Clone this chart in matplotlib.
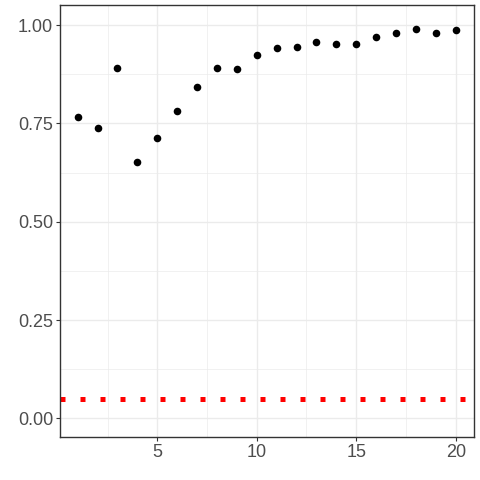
import matplotlib
matplotlib.use("Agg")
import matplotlib.pyplot as plt
from matplotlib.ticker import FixedLocator

x_vals = list(range(1, 21))
y_vals = [0.765, 0.737, 0.892, 0.653, 0.712, 0.781, 0.842, 0.892, 0.887, 0.923,
          0.941, 0.943, 0.956, 0.953, 0.951, 0.969, 0.979, 0.989, 0.979, 0.987]
threshold = 0.05
x_ticks = [5, 10, 15, 20]
y_ticks = [0.00, 0.25, 0.50, 0.75, 1.00]
y_tick_labels = ["0.00", "0.25", "0.50", "0.75", "1.00"]

plt.rcParams['font.family'] = ['Liberation Sans', 'DejaVu Sans']

fig = plt.figure(figsize=(4.8, 4.8), dpi=100)
ax = fig.add_axes([60/480, 1-437/480, 414/480, 432/480])

ax.set_xlim(0.11, 20.92)
ax.set_ylim(-0.0475, 1.051)

ax.xaxis.set_major_locator(FixedLocator(x_ticks))
ax.xaxis.set_minor_locator(FixedLocator([2.5, 7.5, 12.5, 17.5]))
ax.yaxis.set_major_locator(FixedLocator(y_ticks))
ax.yaxis.set_minor_locator(FixedLocator([0.125, 0.375, 0.625, 0.875]))
ax.set_yticklabels(y_tick_labels)

ax.grid(which='major', color='#EBEBEB', linewidth=1.0)
ax.grid(which='minor', color='#EBEBEB', linewidth=0.5)
ax.set_axisbelow(True)

ax.axhline(threshold, color='#FF0000', linewidth=3.6, linestyle=(0, (1, 3)),
           dash_capstyle='butt', zorder=2)
ax.scatter(x_vals, y_vals, s=30, color='black', zorder=3, linewidths=0)

for sp in ax.spines.values():
    sp.set_color('#333333')
    sp.set_linewidth(1.0)

ax.tick_params(axis='both', which='major', length=3, width=0.8, color='#333333',
               labelsize=13, labelcolor='#4D4D4D', pad=2)
ax.tick_params(axis='both', which='minor', length=0)

fig.savefig("out.png", dpi=100, facecolor='white')
